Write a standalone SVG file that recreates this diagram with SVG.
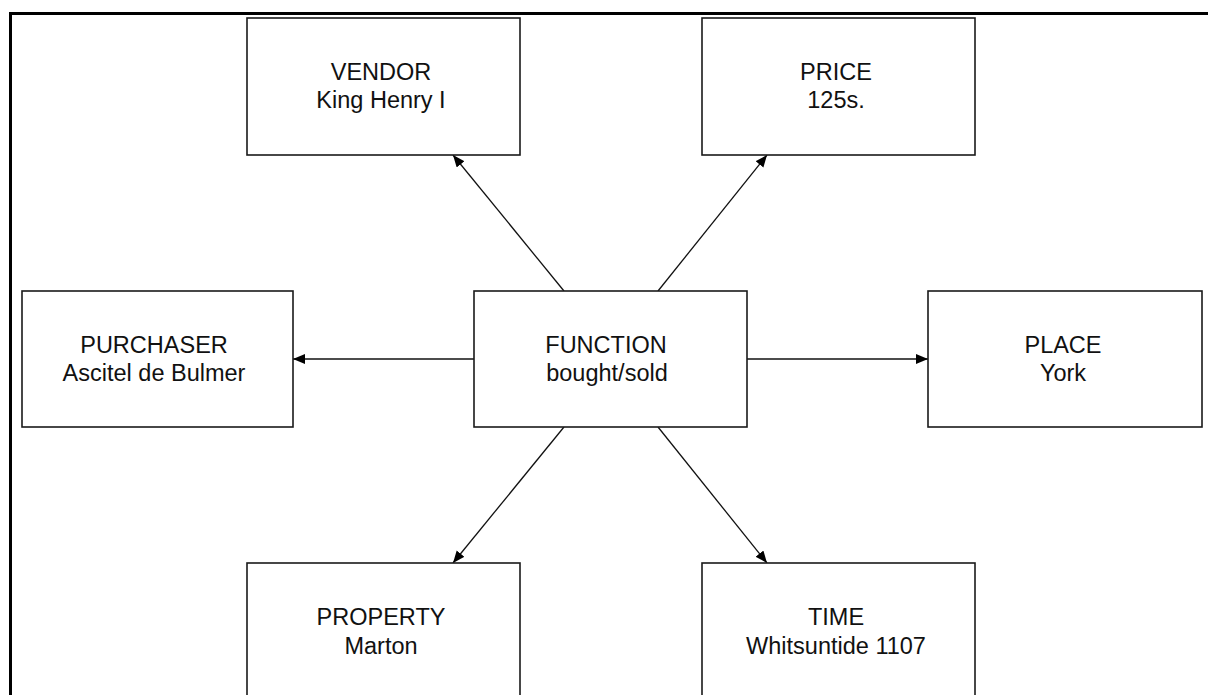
<svg xmlns="http://www.w3.org/2000/svg" width="1208" height="695" viewBox="0 0 1208 695">
<style>
.box{fill:#fff;stroke:#1a1a1a;stroke-width:1.6}
.t{font-family:"Liberation Sans",Arial,sans-serif;font-size:23.5px;fill:#111;text-anchor:middle}
.c{stroke:#111;stroke-width:1.3;fill:none;marker-end:url(#ah)}
</style>
<defs>
<marker id="ah" markerUnits="userSpaceOnUse" markerWidth="14" markerHeight="12" refX="12" refY="5" orient="auto">
<path d="M0,0 L12,5 L0,10 Z" fill="#000"/>
</marker>
</defs>
<rect x="0" y="0" width="1208" height="695" fill="#fff"/>
<rect x="10.5" y="13.5" width="1300" height="800" fill="none" stroke="#000" stroke-width="3"/>
<g id="connectors">
<line class="c" x1="564" y1="291" x2="453" y2="155"/>
<line class="c" x1="658" y1="291" x2="767" y2="155"/>
<line class="c" x1="474" y1="359" x2="293" y2="359"/>
<line class="c" x1="747" y1="359" x2="928" y2="359"/>
<line class="c" x1="564" y1="427" x2="453" y2="563"/>
<line class="c" x1="658" y1="427" x2="767" y2="563"/>
</g>
<g id="vendor">
<rect class="box" x="247" y="18" width="273" height="137"/>
<text class="t" x="381" y="80">VENDOR</text>
<text class="t" x="381" y="108">King Henry I</text>
</g>
<g id="price">
<rect class="box" x="702" y="18" width="273" height="137"/>
<text class="t" x="836" y="80">PRICE</text>
<text class="t" x="836" y="108">125s.</text>
</g>
<g id="purchaser">
<rect class="box" x="22" y="291" width="271" height="136"/>
<text class="t" x="154" y="353">PURCHASER</text>
<text class="t" x="154" y="381">Ascitel de Bulmer</text>
</g>
<g id="function">
<rect class="box" x="474" y="291" width="273" height="136"/>
<text class="t" x="606" y="353">FUNCTION</text>
<text class="t" x="607" y="381">bought/sold</text>
</g>
<g id="place">
<rect class="box" x="928" y="291" width="274" height="136"/>
<text class="t" x="1063" y="353">PLACE</text>
<text class="t" x="1063" y="381">York</text>
</g>
<g id="property">
<rect class="box" x="247" y="563" width="273" height="140"/>
<text class="t" x="381" y="625">PROPERTY</text>
<text class="t" x="381" y="654">Marton</text>
</g>
<g id="time">
<rect class="box" x="702" y="563" width="273" height="140"/>
<text class="t" x="836" y="625">TIME</text>
<text class="t" x="836" y="654">Whitsuntide 1107</text>
</g>
</svg>
